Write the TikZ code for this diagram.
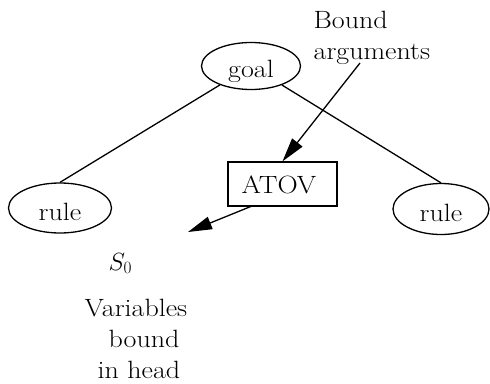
\documentclass[tikz,border=0pt]{standalone}
\usepackage{fontspec}
\usetikzlibrary{shapes.geometric,arrows.meta}
\newcommand{\widetxt}[1]{\scalebox{1.12}[1]{#1}}
\begin{document}
\begin{tikzpicture}[x=1pt,y=-1pt,line width=1.3pt,
  every node/.style={font=\fontsize{25}{31}\selectfont},
  oval/.style={draw,ellipse,inner sep=0pt},
  txt/.style={inner sep=0pt,anchor=base west},
  arr/.style={-{Triangle[length=24pt,width=13pt]}}]
\useasboundingbox (0,0) rectangle (490,383);
\node[oval,minimum width=99pt,minimum height=47pt] (goal) at (251,66) {};
\node[inner sep=0pt,anchor=base] (goaltxt) at (251,77) {\widetxt{goal}};
\node[oval,minimum width=103pt,minimum height=50pt] (ruleL) at (60,208) {};
\node[inner sep=0pt,anchor=base] (ruleLtxt) at (60,220) {\widetxt{rule}};
\node[oval,minimum width=96pt,minimum height=51pt] (ruleR) at (441,209) {};
\node[inner sep=0pt,anchor=base] (ruleRtxt) at (441,221) {\widetxt{rule}};
\node[draw,rectangle,minimum width=109pt,minimum height=44pt,inner sep=0pt] (atov) at (282.5,184) {};
\node[inner sep=0pt,anchor=base] (atovtxt) at (279,193) {\widetxt{ATOV}};
\node[txt] (bound) at (313,28) {\widetxt{Bound}};
\node[txt] (args) at (313,59) {\widetxt{arguments}};
\node[txt] (s0) at (108,270) {$S_0$};
\node[txt] (v1) at (84,316) {\widetxt{Variables}};
\node[txt] (v2) at (108,347) {\widetxt{bound}};
\node[txt] (v3) at (97,378) {\widetxt{in head}};
\coordinate (argstart) at (360,63);
\coordinate (s0end) at (188,232);
\coordinate (atovout) at (252,206);
\draw (goal) -- (ruleL.north);
\draw (goal) -- (ruleR.north);
\draw[arr] (argstart) -- (atov.north);
\draw[arr] (atovout) -- (s0end);
\end{tikzpicture}
\end{document}
